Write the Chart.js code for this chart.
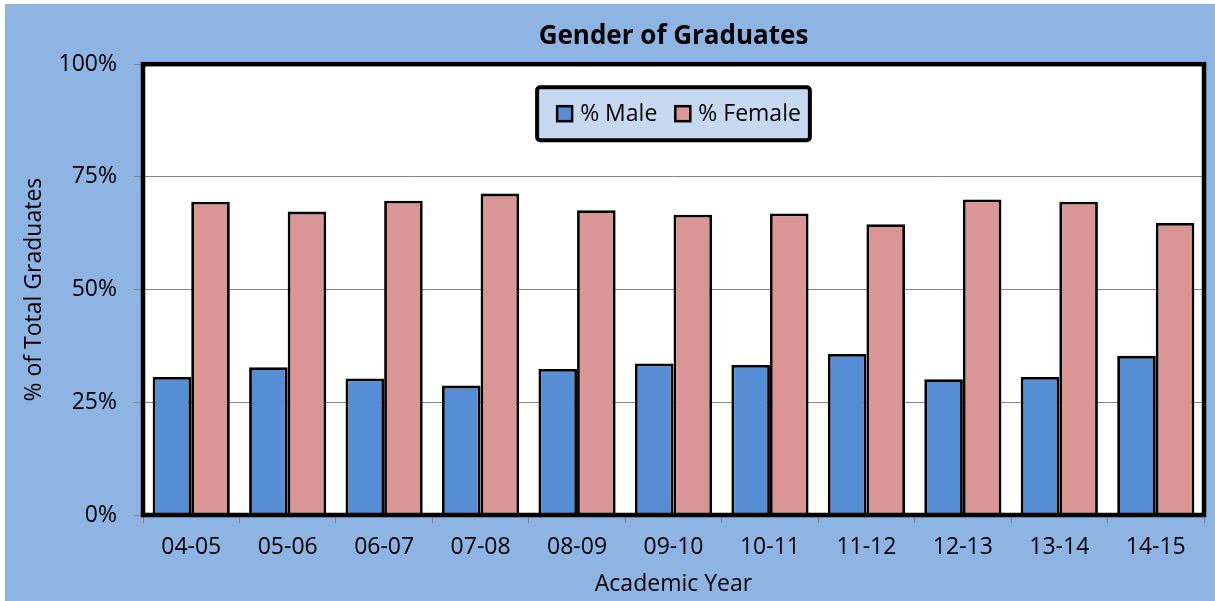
<!DOCTYPE html>
<html>
<head>
<meta charset="utf-8">
<title>Gender of Graduates</title>
<script src="https://cdn.jsdelivr.net/npm/chart.js@4.4.1/dist/chart.umd.min.js"></script>
<style>
  html, body { margin: 0; padding: 0; background: #fff; }
  #wrap { position: absolute; left: 5px; top: 4px; width: 1210px; height: 597px; }
</style>
</head>
<body>
<div id="wrap"><canvas id="chart" width="1210" height="597"></canvas></div>
<script>
  // --- Data ---
  const years = ['04-05', '05-06', '06-07', '07-08', '08-09', '09-10', '10-11', '11-12', '12-13', '13-14', '14-15'];
  const malePct = [30.6, 32.8, 30.3, 28.7, 32.4, 33.6, 33.3, 35.7, 30.1, 30.6, 35.3];
  const femalePct = [69.5, 67.3, 69.7, 71.3, 67.6, 66.6, 66.9, 64.5, 70.0, 69.5, 64.8];
  const yTicks = [0, 25, 50, 75, 100];

  const FONT = "'Open Sans', sans-serif";
  Chart.defaults.font.family = FONT;
  Chart.defaults.color = '#000';

  // blue page behind, white plot area, thick frame on top of the bars
  const backdrop = {
    id: 'backdrop',
    beforeDraw(chart) {
      const { ctx, chartArea: a, width, height } = chart;
      ctx.save();
      ctx.fillStyle = '#8EB4E3';
      ctx.fillRect(0, 0, width, height);
      ctx.fillStyle = '#fff';
      ctx.fillRect(a.left, a.top, a.right - a.left, a.bottom - a.top);
      ctx.restore();
    },
    afterDatasetsDraw(chart) {
      const { ctx, chartArea: a } = chart;
      ctx.save();
      ctx.strokeStyle = '#000';
      ctx.lineWidth = 4.5;
      ctx.strokeRect(a.left, a.top, a.right - a.left, a.bottom - a.top);
      ctx.restore();
    },
  };

  // legend box sitting inside the plot area, top centre
  const insideLegend = {
    id: 'insideLegend',
    afterDraw(chart) {
      const { ctx, chartArea: a } = chart;
      ctx.save();
      ctx.font = '23px ' + FONT;
      const sw = 15, gapText = 8, gapItem = 18, padL = 20, padR = 9, boxH = 53;
      const items = chart.data.datasets.map((ds) => ({
        text: ds.label,
        fill: ds.backgroundColor,
        w: ctx.measureText(ds.label).width,
      }));
      let boxW = padL + padR;
      items.forEach((it, i) => { boxW += sw + gapText + it.w + (i ? gapItem : 0); });
      const x0 = (a.left + a.right) / 2 - boxW / 2;
      const y0 = a.top + 23;

      ctx.beginPath();
      ctx.roundRect(x0, y0, boxW, boxH, 3);
      ctx.fillStyle = '#C6D9F1';
      ctx.fill();
      ctx.lineWidth = 4;
      ctx.strokeStyle = '#000';
      ctx.stroke();

      const cy = y0 + boxH / 2;
      let x = x0 + padL;
      items.forEach((it, i) => {
        if (i) x += gapItem;
        ctx.fillStyle = it.fill;
        ctx.fillRect(x, cy - sw / 2, sw, sw);
        ctx.lineWidth = 2.5;
        ctx.strokeRect(x, cy - sw / 2, sw, sw);
        x += sw + gapText;
        ctx.fillStyle = '#000';
        ctx.textBaseline = 'middle';
        ctx.textAlign = 'left';
        ctx.fillText(it.text, x, cy + 1);
        x += it.w;
      });
      ctx.restore();
    },
  };

  new Chart(document.getElementById('chart'), {
    type: 'bar',
    data: {
      labels: years,
      datasets: [
        {
          label: '% Male',
          data: malePct,
          backgroundColor: '#558ED5',
          borderColor: '#000',
          borderWidth: 2.8,
        },
        {
          label: '% Female',
          data: femalePct,
          backgroundColor: '#D99694',
          borderColor: '#000',
          borderWidth: 2.8,
        },
      ],
    },
    options: {
      responsive: false,
      devicePixelRatio: 1,
      animation: false,
      layout: { padding: { left: 0, right: 11, top: 0, bottom: 0 } },
      datasets: { bar: { categoryPercentage: 0.8, barPercentage: 1.0 } },
      plugins: {
        legend: { display: false },
        tooltip: { enabled: false },
        title: {
          display: true,
          text: 'Gender of Graduates',
          fullSize: false,
          font: { size: 26, weight: 'bold', lineHeight: 1.2 },
          padding: { top: 17, bottom: 12 },
        },
      },
      scales: {
        x: {
          grid: {
            offset: true,
            drawOnChartArea: false,
            drawTicks: true,
            tickLength: 8,
            color: '#7f7f7f',
          },
          border: { display: false },
          ticks: { font: { size: 23 }, padding: 11, maxRotation: 0 },
          title: {
            display: true,
            text: 'Academic Year',
            font: { size: 23 },
            padding: { top: 0, bottom: 3 },
          },
          afterFit(scale) { scale.height = 86; },
        },
        y: {
          min: 0,
          max: 100,
          afterBuildTicks(scale) { scale.ticks = yTicks.map((v) => ({ value: v })); },
          grid: { color: '#868686', lineWidth: 1, tickLength: 9 },
          border: { display: false },
          ticks: { font: { size: 23 }, padding: 17, callback: (v) => v + '%' },
          title: {
            display: true,
            text: '% of Total Graduates',
            font: { size: 23 },
            padding: { top: 16, bottom: 0 },
          },
          afterFit(scale) { scale.width = 138; },
        },
      },
    },
    plugins: [backdrop, insideLegend],
  });
</script>
</body>
</html>
